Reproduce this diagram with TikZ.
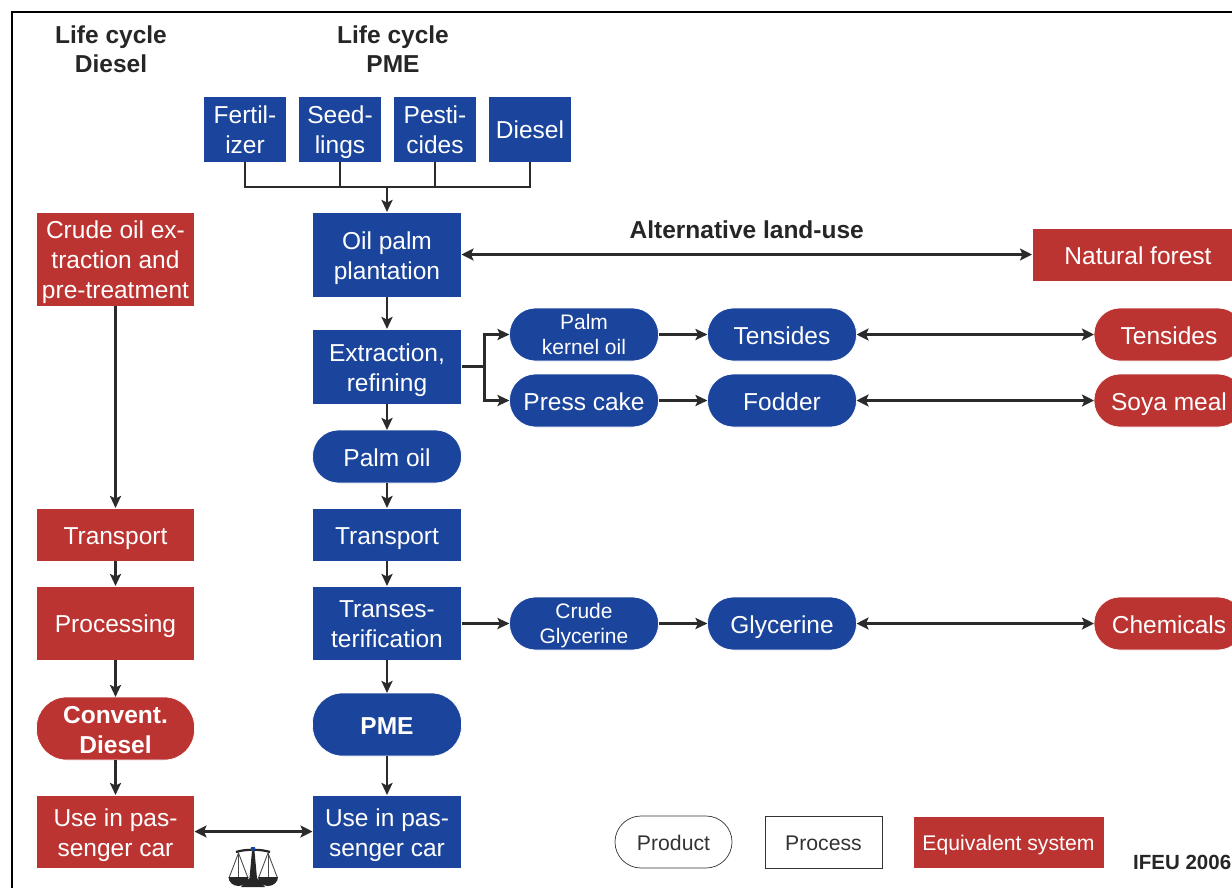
\documentclass[tikz,border=0pt]{standalone}
\usepackage{fontspec}
\setmainfont{Liberation Sans}
\usepackage{xcolor}
\usepackage{tikz}
\usetikzlibrary{arrows.meta}
\usetikzlibrary{positioning}
\definecolor{ifeublue}{HTML}{1B449C}
\definecolor{ifeured}{HTML}{BC3431}
\definecolor{edgegray}{HTML}{2B2B2B}
\tikzset{
    treenode/.style = {align=center, inner sep=0pt, outer sep=0pt, text centered, draw=edgegray, line width=0.7pt, text height=23pt, text depth=4pt, font=\fontsize{24.5}{30}\selectfont},
    two_lines/.style = {text height=53pt},
    three_lines/.style = {text height=83pt},
    blue_box/.style = {treenode, rectangle, white, fill=ifeublue, minimum width=149pt},
    red_box/.style = {treenode, rectangle, white, fill=ifeured, minimum width=158pt},
    small_box/.style = {blue_box, minimum width=83pt, minimum height=66pt},
    blue_pill/.style = {treenode, white, fill=ifeublue, rounded corners=26pt, minimum width=149pt, minimum height=53pt},
    red_pill/.style = {treenode, white, fill=ifeured, rounded corners=26pt, minimum width=150pt, minimum height=53pt},
    small_text/.style = {font=\fontsize{21}{25}\selectfont, text height=44pt, text depth=4pt},
    key_node/.style = {treenode, black!80, minimum height=52pt, text height=20pt, text depth=4pt, font=\fontsize{21.2}{26}\selectfont},
    title/.style = {align=center, inner sep=0pt, black!85, font=\bfseries\fontsize{24.5}{29}\selectfont},
    plain_link/.style = {edgegray, line width=2.5pt},
    link/.style = {-{Stealth[length=12pt, width=11pt, inset=2.5pt]}, edgegray, line width=2.5pt},
    swap/.style = {{Stealth[length=12pt, width=12pt, inset=2.5pt]}-{Stealth[length=12pt, width=12pt, inset=2.5pt]}, edgegray, line width=3pt}
}

\begin{document}
\begin{tikzpicture}[x=1pt, y=-1pt]
    \useasboundingbox (0,0) rectangle (1232,887);
    \clip (0,0) rectangle (1232,887);
    \draw [black, line width=2pt] (11.5,1000) -- (11.5,11.5) -- (1400,11.5);

    \node [title] (title_diesel) at (111,49) {Life cycle\\Diesel};
    \node [title] (title_pme) at (393,49) {Life cycle\\PME};

    % inputs
    \node [small_box, two_lines] (fertilizer) at (245,129) {Fertil-\\izer};
    \node [small_box, two_lines, right=12pt of fertilizer] (seedlings) {Seed-\\lings};
    \node [small_box, two_lines, right=12pt of seedlings] (pesticides) {Pesti-\\cides};
    \node [small_box, right=12pt of pesticides] (input_diesel) {Diesel};

    % PME column
    \node [blue_box, two_lines, minimum height=85pt] (plantation) at (387,254.5) {Oil palm\\plantation};
    \node [blue_box, two_lines, minimum height=75pt, below=32pt of plantation] (extraction) {Extraction,\\refining};
    \node [blue_pill, below=26pt of extraction] (palm_oil) {Palm oil};
    \node [blue_box, minimum height=53pt, below=25pt of palm_oil] (pme_transport) {Transport};
    \node [blue_box, two_lines, minimum height=74pt, below=25pt of pme_transport] (transester) {Transes-\\terification};
    \node [blue_pill, minimum height=63pt, rounded corners=30pt, font=\bfseries\fontsize{24.5}{30}\selectfont, below=33pt of transester] (pme) {PME};
    \node [blue_box, two_lines, minimum height=73pt, below=39pt of pme] (pme_use) {Use in pas-\\senger car};

    % diesel column
    \node [red_box, three_lines, minimum height=94pt] (crude_oil) at (115.5,259) {Crude oil ex-\\traction and\\pre-treatment};
    \node [red_box, minimum height=53pt] (diesel_transport) at (115.5,534.5) {Transport};
    \node [red_box, minimum height=74pt, below=25pt of diesel_transport] (processing) {Processing};
    \node [red_pill, two_lines, minimum width=158pt, minimum height=63pt, rounded corners=30pt, font=\bfseries\fontsize{24.5}{30}\selectfont, below=37pt of processing] (convent) {Convent.\\Diesel};
    \node [red_box, two_lines, minimum height=73pt, below=35pt of convent] (diesel_use) {Use in pas-\\senger car};

    % co-products
    \node [blue_pill, small_text] (kernel_oil) at (584,334.5) {Palm\\kernel oil};
    \node [blue_pill, below=13pt of kernel_oil] (press_cake) {Press cake};
    \node [blue_pill, right=49pt of kernel_oil] (tensides) {Tensides};
    \node [blue_pill, right=49pt of press_cake] (fodder) {Fodder};
    \node [blue_pill, small_text] (crude_glycerine) at (584,623.5) {Crude\\Glycerine};
    \node [blue_pill, right=49pt of crude_glycerine] (glycerine) {Glycerine};

    % equivalent systems
    \node [treenode, rectangle, white, fill=ifeured, minimum width=212pt, minimum height=53pt] (forest) at (1138,254.5) {Natural forest};
    \node [red_pill] (eq_tensides) at (1169,334.5) {Tensides};
    \node [red_pill] (soya) at (1169,400.5) {Soya meal};
    \node [red_pill] (chemicals) at (1169,623.5) {Chemicals};

    % legend
    \node [key_node, minimum width=117pt, rounded corners=26pt] (key_product) at (673.5,842) {Product};
    \node [key_node, rectangle, minimum width=117pt, right=33pt of key_product] (key_process) {Process};
    \node [key_node, rectangle, white, fill=ifeured, minimum width=191pt, right=31pt of key_process] (key_system) {Equivalent system};
    \node [inner sep=0pt, anchor=west, black!85, font=\bfseries\fontsize{20.5}{25}\selectfont] (ifeu) at (1133,862) {IFEU 2006};

    % input fork
    \coordinate (fork) at (387,187);
    \draw [plain_link] (fertilizer.south) |- (fork);
    \draw [plain_link] (seedlings.south) |- (fork);
    \draw [plain_link] (pesticides.south) |- (fork);
    \draw [plain_link] (input_diesel.south) |- (fork);
    \draw [link] (fork) -- (plantation.north);

    \draw [link] (plantation) -- (extraction);
    \draw [link] (extraction) -- (palm_oil);
    \draw [link] (palm_oil) -- (pme_transport);
    \draw [link] (pme_transport) -- (transester);
    \draw [link] (transester) -- (pme);
    \draw [link] (pme) -- (pme_use);

    \draw [link] (crude_oil) -- (diesel_transport);
    \draw [link] (diesel_transport) -- (processing);
    \draw [link] (processing) -- (convent);
    \draw [link] (convent) -- (diesel_use);

    \coordinate [right=23pt of extraction] (branch);
    \draw [link] (extraction) -- (branch) |- (kernel_oil);
    \draw [link] (branch) |- (press_cake);
    \draw [link] (kernel_oil) -- (tensides);
    \draw [link] (press_cake) -- (fodder);
    \draw [link] (transester.east |- crude_glycerine) -- (crude_glycerine);
    \draw [link] (crude_glycerine) -- (glycerine);

    \draw [swap] (plantation) -- node [above=14pt, inner sep=0pt, black!85, font=\bfseries\fontsize{24.5}{29}\selectfont] (land_use) {Alternative land-use} (forest);
    \draw [swap] (tensides) -- (eq_tensides);
    \draw [swap] (fodder) -- (soya);
    \draw [swap] (glycerine) -- (chemicals);
    \draw [swap] (diesel_use) -- (pme_use);

    % balance
    \fill [black!85] (252,851) -- (254.5,851) -- (257,878) -- (265,887) -- (241,887) -- (249.5,878) -- cycle;
    \draw [black!85, line width=2.2pt] (236,852) .. controls (245,849) and (261,849) .. (270,852);
    \fill [ifeublue] (251,847) rectangle (255,851);
    \foreach \panx in {238.5,268} {
        \draw [black!70, line width=0.9pt] (\panx-9.5,878) -- (\panx,853) -- (\panx+9.5,878);
        \draw [black!70, line width=0.9pt] (\panx,853) -- (\panx,878);
        \fill [black!85] (\panx-10,877) arc (180:0:10 and 9) -- cycle;
    }
\end{tikzpicture}
\end{document}
